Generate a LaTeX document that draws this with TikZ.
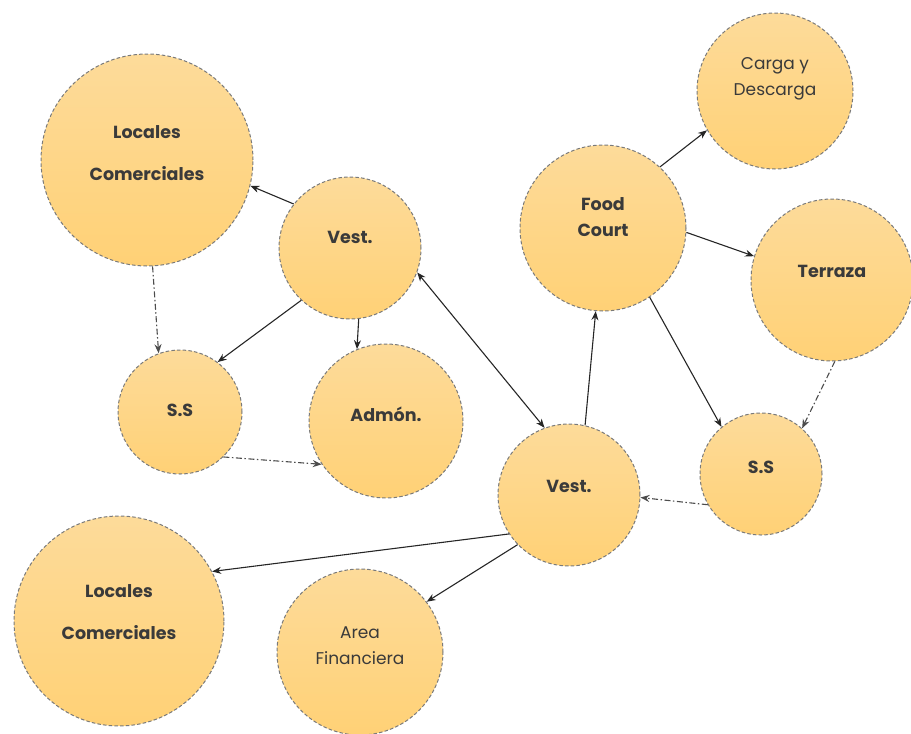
\documentclass[tikz,border=0pt]{standalone}
\usepackage{fontspec}
\setmainfont{Poppins}
\usetikzlibrary{arrows.meta}
\definecolor{ink}{HTML}{3A3A3A}
\definecolor{rimgray}{HTML}{7A7A7A}
\definecolor{fillTop}{RGB}{253,219,154}
\definecolor{fillBot}{RGB}{255,209,118}
\tikzset{
  bubble/.style={circle, minimum size=#1, inner sep=0pt, draw=rimgray, line width=1pt,
    dash pattern=on 3.5pt off 2.2pt, top color=fillTop, bottom color=fillBot},
  caption/.style={text=ink, align=center, font=\fontsize{17.5}{26}\selectfont\bfseries},
  plaincaption/.style={text=ink, align=center, font=\fontsize{17}{26}\selectfont},
  link/.style={draw=black!85, line width=1.1pt, -{Stealth[length=9pt,width=7pt]}},
  twoway/.style={draw=black!85, line width=1.1pt, {Stealth[length=9pt,width=7pt]}-{Stealth[length=9pt,width=7pt]}},
  dotlink/.style={draw=black!70, line width=1.1pt, dash pattern=on 6pt off 2.5pt on 1.5pt off 2.5pt,
    -{Stealth[length=9pt,width=7pt]}}
}
\begin{document}
\begin{tikzpicture}[x=1pt,y=-1pt]
\useasboundingbox (0,0) rectangle (911,734);

% circles
\node[bubble=212pt] (lt) at (147,160) {};
\node[bubble=142pt] (vt) at (350,248) {};
\node[bubble=124pt] (sl) at (180,412) {};
\node[bubble=154pt] (adm) at (386,421) {};
\node[bubble=166pt] (fc) at (603,228) {};
\node[bubble=156pt] (cd) at (775,91) {};
\node[bubble=162pt] (terr) at (832,280) {};
\node[bubble=122pt] (sr) at (761,474) {};
\node[bubble=142pt] (vb) at (569,495) {};
\node[bubble=210pt] (lb) at (119,621) {};
\node[bubble=166pt] (af) at (360,652) {};

% labels
\node[caption] (lt-t) at (147,153) {Locales\\[16pt]Comerciales};
\node[caption] (vt-t) at (350,237) {Vest.};
\node[caption] (sl-t) at (180,410) {S.S};
\node[caption] (adm-t) at (386,414) {Admón.};
\node[caption] (fc-t) at (603,217) {Food\\Court};
\node[plaincaption] (cd-t) at (775,79) {Carga y\\Descarga};
\node[caption] (terr-t) at (832,271) {Terraza};
\node[caption] (sr-t) at (761,467) {S.S};
\node[caption] (vb-t) at (569,486) {Vest.};
\node[caption] (lb-t) at (119,612) {Locales\\[16pt]Comerciales};
\node[plaincaption] (af-t) at (360,646) {Area\\Financiera};

% connectors
\draw[link] (vt.142) -- (lt.-14);
\draw[link] (vt.227) -- (sl.53);
\draw[link] (vt.-83) -- (adm.112);
\draw[twoway] (vt.-20) -- (vb.110);
\draw[dotlink] (lt.-87) -- (sl.110);
\draw[dotlink] (sl.-46) -- (adm.214);
\draw[link] (vb.77) -- (fc.265);
\draw[link] (fc.47) -- (cd.210);
\draw[link] (fc.-3.5) -- (terr.163);
\draw[link] (fc.-56) -- (sr.130);
\draw[dotlink] (terr.-88) -- (sr.48);
\draw[dotlink] (sr.210) -- (vb.-2);
\draw[link] (vb.213) -- (lb.28.5);
\draw[link] (vb.224) -- (af.37);
\end{tikzpicture}
\end{document}
